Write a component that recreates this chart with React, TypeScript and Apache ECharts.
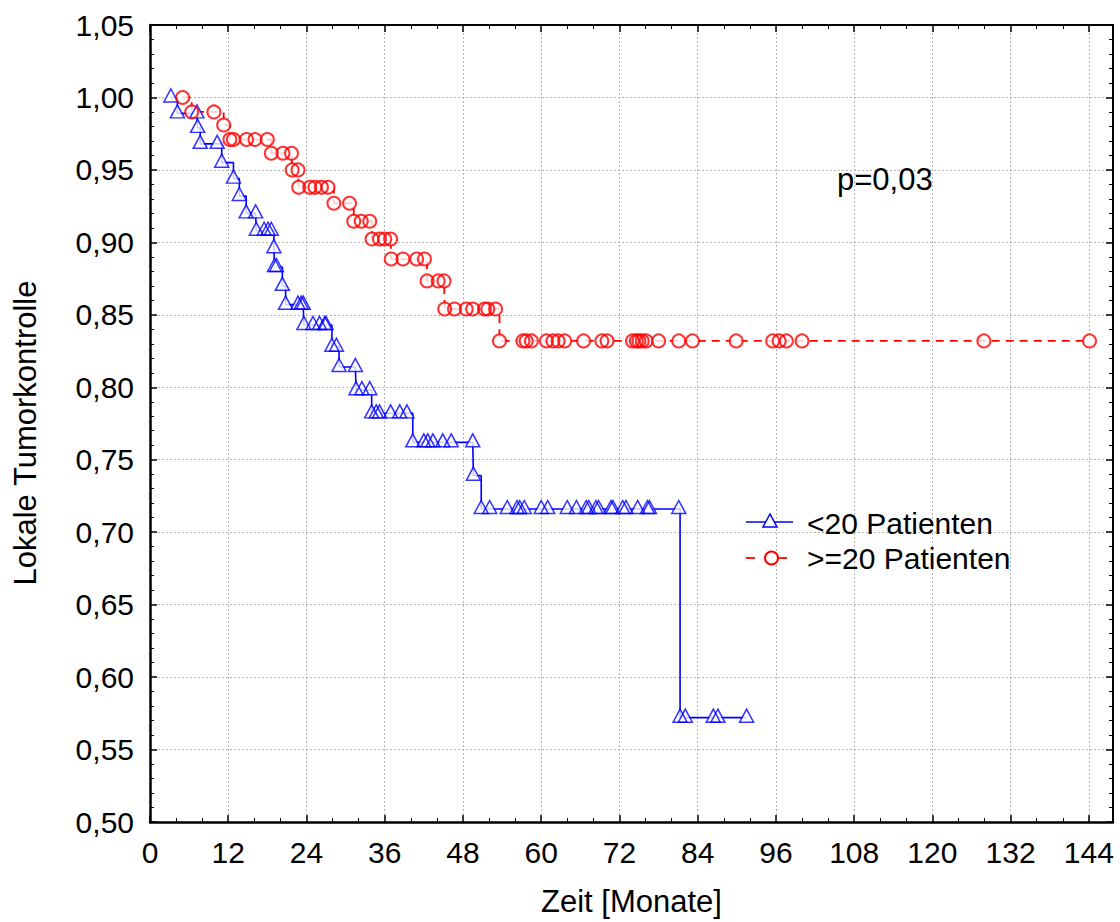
import React, { useEffect, useRef } from "react";
import * as echarts from "echarts";

// Kaplan-Meier: [time (months), survival]
const bluePoints: number[][] = [
  [3.2, 1.0], [4.2, 0.989], [7.2, 0.989], [7.3, 0.979], [7.7, 0.968], [10.3, 0.968],
  [11.0, 0.955], [12.8, 0.944], [13.7, 0.932], [14.75, 0.92], [16.2, 0.92],
  [16.3, 0.908], [17.5, 0.908], [18.1, 0.908], [18.6, 0.908], [19.0, 0.896],
  [19.1, 0.883], [19.4, 0.883], [20.3, 0.87], [20.8, 0.857], [22.7, 0.857],
  [23.2, 0.857], [23.5, 0.857], [23.6, 0.843], [25.0, 0.843], [26.0, 0.843],
  [26.8, 0.843], [27.0, 0.843], [27.9, 0.828], [28.6, 0.828], [29.0, 0.814],
  [31.5, 0.814], [31.6, 0.798], [32.5, 0.798], [33.7, 0.798], [34.0, 0.782],
  [34.7, 0.782], [35.2, 0.782], [36.9, 0.782], [38.3, 0.782], [39.4, 0.782],
  [40.3, 0.762], [42.0, 0.762], [42.6, 0.762], [43.4, 0.762], [44.9, 0.762],
  [46.2, 0.762], [49.5, 0.762], [49.6, 0.739], [50.8, 0.716], [52.1, 0.716],
  [54.8, 0.716], [56.3, 0.716], [56.7, 0.716], [57.4, 0.716], [60.0, 0.716],
  [61.0, 0.716], [64.0, 0.716], [65.4, 0.716], [66.9, 0.716], [67.3, 0.716],
  [68.4, 0.716], [68.8, 0.716], [70.7, 0.716], [71.0, 0.716], [72.5, 0.716],
  [73.0, 0.716], [74.8, 0.716], [76.3, 0.716], [76.6, 0.716], [81.1, 0.716],
  [81.3, 0.572], [82.1, 0.572], [86.4, 0.572], [87.1, 0.572], [91.5, 0.572],
];

const redPoints: number[][] = [
  [5.0, 1.0], [6.4, 0.99], [9.8, 0.99], [11.3, 0.981], [12.25, 0.971], [12.8, 0.971],
  [14.8, 0.971], [16.1, 0.971], [18.0, 0.971], [18.6, 0.9615], [20.4, 0.9615],
  [21.7, 0.9615], [21.8, 0.95], [22.7, 0.95], [22.8, 0.938], [24.5, 0.938],
  [25.3, 0.938], [26.3, 0.938], [27.3, 0.938], [28.2, 0.927], [30.6, 0.927],
  [31.25, 0.9146], [32.4, 0.9146], [33.7, 0.9146], [34.05, 0.9023], [35.2, 0.9023],
  [36.0, 0.9023], [36.9, 0.9023], [37.0, 0.8885], [38.8, 0.8885], [40.9, 0.8885],
  [42.1, 0.8885], [42.5, 0.8734], [44.2, 0.8734], [45.1, 0.8734], [45.2, 0.854],
  [46.7, 0.854], [48.5, 0.854], [49.5, 0.854], [51.3, 0.854], [51.8, 0.854],
  [53.0, 0.854], [53.6, 0.832], [57.2, 0.832], [57.7, 0.832], [58.5, 0.832],
  [60.8, 0.832], [61.8, 0.832], [62.6, 0.832], [63.6, 0.832], [66.5, 0.832],
  [69.3, 0.832], [70.1, 0.832], [74.0, 0.832], [74.6, 0.832], [75.0, 0.832],
  [75.5, 0.832], [76.1, 0.832], [78.0, 0.832], [81.1, 0.832], [83.2, 0.832],
  [89.9, 0.832], [95.5, 0.832], [96.5, 0.832], [97.6, 0.832], [100.0, 0.832],
  [127.9, 0.832], [144.1, 0.832],
];

const seriesNames = ["<20 Patienten", ">=20 Patienten"];
const pValueText = "p=0,03";
const xTitle = "Zeit [Monate]";
const yTitle = "Lokale Tumorkontrolle";

const FONT = "'Liberation Sans', Arial, sans-serif";
const BLUE = "#0000ff";
const RED = "#ff0000";

export default function App() {
  const ref = useRef<HTMLDivElement>(null);
  useEffect(() => {
    if (!ref.current) return;
    const chart = echarts.init(ref.current, null, { renderer: "svg" });

    const xFmt = (v: number) => (Math.abs(v / 12 - Math.round(v / 12)) < 1e-6 ? String(Math.round(v)) : "");
    const yFmt = (v: number) => v.toFixed(2).replace(".", ",");

    const gridLine = { show: true, lineStyle: { color: "#b4b4b4", width: 1, type: [2, 2] as any } };
    const axisLine = { show: true, onZero: false, lineStyle: { color: "#000", width: 2.5 } };
    const axisLineThin = { show: true, onZero: false, lineStyle: { color: "#000", width: 2 } };

    const xCommon = { type: "value" as const, min: 0, max: 147.7, interval: 12 };
    const yCommon = { type: "value" as const, min: 0.5, max: 1.05, interval: 0.05 };

    const tick = { show: true, inside: true, length: 7, lineStyle: { color: "#000", width: 1.5 } };
    const xMinor = { show: true, splitNumber: 3, length: 4, lineStyle: { color: "#000", width: 1 } };
    const yMinor = { show: true, splitNumber: 5, length: 4, lineStyle: { color: "#000", width: 1 } };

    const option: any = {
      animation: false,
      backgroundColor: "#fff",
      grid: { left: 150, top: 25, width: 963, height: 797, outerBoundsMode: "none" },
      xAxis: [
        {
          ...xCommon,
          position: "bottom",
          axisLine,
          axisTick: tick,
          minorTick: xMinor,
          splitLine: gridLine,
          axisLabel: { formatter: xFmt, fontSize: 30, color: "#000", margin: 15, fontFamily: FONT },
          name: xTitle,
          nameLocation: "middle",
          nameGap: 64,
          nameTextStyle: { fontSize: 31, color: "#000", fontFamily: FONT },
        },
        {
          ...xCommon,
          position: "top",
          axisLine: axisLineThin,
          axisTick: tick,
          minorTick: xMinor,
          splitLine: { show: false },
          axisLabel: { show: false },
        },
      ],
      yAxis: [
        {
          ...yCommon,
          position: "left",
          axisLine,
          axisTick: tick,
          minorTick: yMinor,
          splitLine: gridLine,
          axisLabel: { formatter: yFmt, fontSize: 30, color: "#000", margin: 16, fontFamily: FONT },
        },
        {
          ...yCommon,
          position: "right",
          axisLine: axisLineThin,
          axisTick: tick,
          minorTick: yMinor,
          splitLine: { show: false },
          axisLabel: { show: false },
        },
      ],
      series: [
        {
          name: seriesNames[0],
          type: "line",
          data: bluePoints,
          step: "end",
          showSymbol: false,
          lineStyle: { color: BLUE, width: 1.6 },
          z: 2,
        },
        {
          name: seriesNames[1],
          type: "line",
          data: redPoints,
          step: "end",
          showSymbol: false,
          lineStyle: { color: RED, width: 1.8, type: [8, 6] },
          z: 2,
        },
        {
          type: "scatter",
          data: bluePoints,
          symbol: "triangle",
          symbolSize: [14, 13],
          symbolOffset: [0, -2],
          itemStyle: { color: "#fff", borderWidth: 0 },
          z: 3,
          silent: true,
        },
        {
          type: "scatter",
          data: redPoints,
          symbol: "circle",
          symbolSize: 13,
          itemStyle: { color: "#fff", borderWidth: 0 },
          z: 3,
          silent: true,
        },
        {
          type: "scatter",
          data: bluePoints,
          symbol: "triangle",
          symbolSize: [14, 13],
          symbolOffset: [0, -2],
          itemStyle: { color: "rgba(0,0,0,0)", borderColor: BLUE, borderWidth: 1.5 },
          z: 4,
          silent: true,
        },
        {
          type: "scatter",
          data: redPoints,
          symbol: "circle",
          symbolSize: 13,
          itemStyle: { color: "rgba(0,0,0,0)", borderColor: RED, borderWidth: 2 },
          z: 4,
          silent: true,
        },
      ],
      graphic: [
        // y axis title
        {
          type: "text",
          x: 25,
          y: 433,
          rotation: Math.PI / 2,
          style: { text: yTitle, fill: "#000", font: `31px ${FONT}`, align: "center", verticalAlign: "middle" },
          z: 11,
        },
        // legend row 1
        { type: "line", shape: { x1: 746, y1: 522, x2: 793, y2: 522 }, style: { stroke: BLUE, lineWidth: 1.6 }, z: 10 },
        { type: "polygon", shape: { points: [[763, 527], [777, 527], [770, 514]] }, style: { fill: "#fff", stroke: BLUE, lineWidth: 1.5 }, z: 11 },
        { type: "text", x: 807, y: 523, style: { text: seriesNames[0], fill: "#000", font: `30px ${FONT}`, verticalAlign: "middle" }, z: 11 },
        // legend row 2
        { type: "line", shape: { x1: 746, y1: 558, x2: 755, y2: 558 }, style: { stroke: RED, lineWidth: 1.8 }, z: 10 },
        { type: "line", shape: { x1: 778, y1: 558, x2: 787, y2: 558 }, style: { stroke: RED, lineWidth: 1.8 }, z: 10 },
        { type: "circle", shape: { cx: 771.5, cy: 558, r: 6.5 }, style: { fill: "#fff", stroke: RED, lineWidth: 2 }, z: 11 },
        { type: "text", x: 807, y: 558, style: { text: seriesNames[1], fill: "#000", font: `30px ${FONT}`, verticalAlign: "middle" }, z: 11 },
        // p value
        { type: "text", x: 837, y: 179, style: { text: pValueText, fill: "#000", font: `31px ${FONT}`, verticalAlign: "middle" }, z: 11 },
      ],
    };

    chart.setOption(option);
    return () => chart.dispose();
  }, []);

  return (
    <div
      ref={ref}
      style={{ position: "absolute", left: 0, top: 0, width: 1120, height: 922, background: "#fff" }}
    />
  );
}
